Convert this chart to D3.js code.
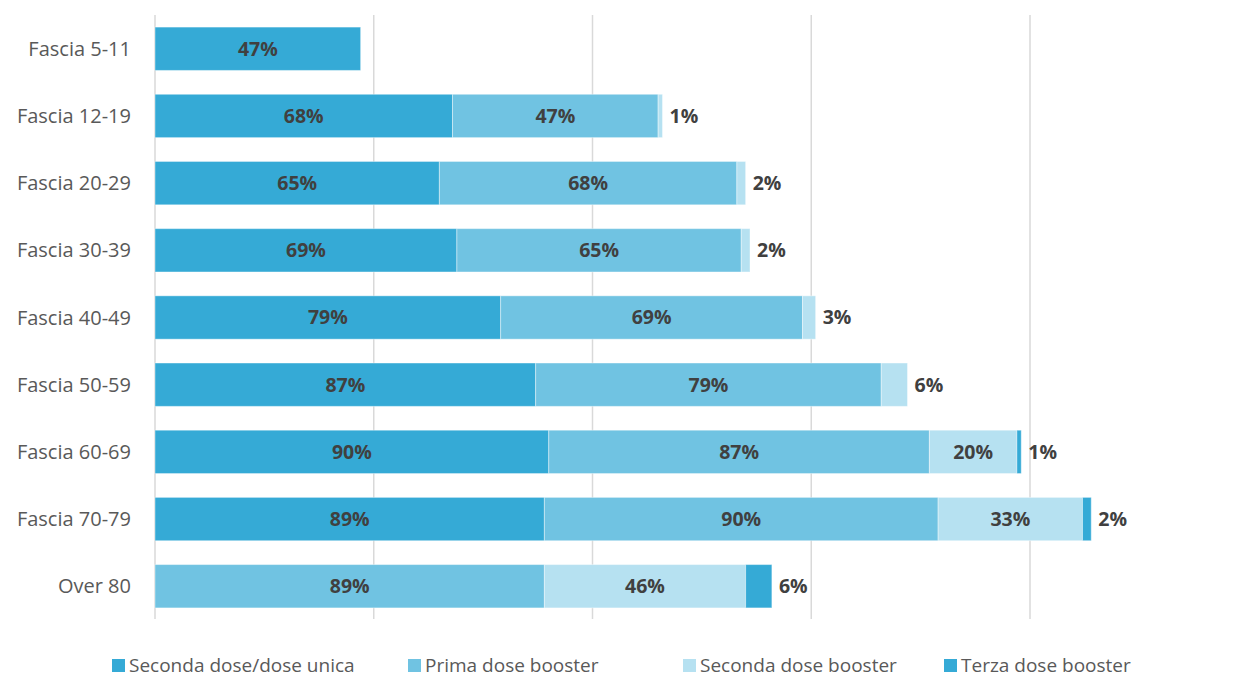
<!DOCTYPE html>
<html>
<head>
<meta charset="utf-8">
<script src="https://cdn.jsdelivr.net/npm/d3@7"></script>
<style>
  body { margin: 0; background: #fff; }
  text { font-family: "Open Sans", sans-serif; }
</style>
</head>
<body>
<script>
const categories = ['Fascia 5-11', 'Fascia 12-19', 'Fascia 20-29', 'Fascia 30-39', 'Fascia 40-49',
  'Fascia 50-59', 'Fascia 60-69', 'Fascia 70-79', 'Over 80'];
const seriesNames = ['Seconda dose/dose unica', 'Prima dose booster', 'Seconda dose booster', 'Terza dose booster'];
const secondaDose = [47, 68, 65, 69, 79, 87, 90, 89, 0];
const primaBooster = [0, 47, 68, 65, 69, 79, 87, 90, 89];
const secondaBooster = [0, 1, 2, 2, 3, 6, 20, 33, 46];
const terzaBooster = [0, 0, 0, 0, 0, 0, 1, 2, 6];
const ticks = [0, 50, 100, 150, 200];
const colors = ['#35aad6', '#70c3e2', '#b6e1f1', '#35aad6'];

const width = 1239, height = 679;
const svg = d3.select('body').append('svg')
  .attr('width', width)
  .attr('height', height);

const x = d3.scaleLinear().domain([0, 200]).range([155, 1030]);
const y = d3.scaleBand().domain(categories).range([15, 620]).paddingInner(0.355).paddingOuter(0.18);

// gridlines
svg.append('g').selectAll('line').data(ticks).enter().append('line')
  .attr('x1', d => x(d)).attr('x2', d => x(d))
  .attr('y1', 15).attr('y2', 619)
  .attr('stroke', '#d9d9d9').attr('stroke-width', 1.5);

// category labels
svg.append('g').selectAll('text').data(categories).enter().append('text')
  .attr('x', 131)
  .attr('y', d => y(d) + y.bandwidth() / 2)
  .attr('dy', '0.35em')
  .attr('text-anchor', 'end')
  .attr('fill', '#595959')
  .attr('font-size', 20)
  .text(d => d);

const table = categories.map((c, i) => ({
  cat: c,
  s0: secondaDose[i], s1: primaBooster[i], s2: secondaBooster[i], s3: terzaBooster[i]
}));
const stack = d3.stack().keys(['s0', 's1', 's2', 's3'])(table);

stack.forEach((layer, k) => {
  svg.append('g').selectAll('rect').data(layer.filter(d => d[1] > d[0])).enter().append('rect')
    .attr('x', d => x(d[0]))
    .attr('y', d => y(d.data.cat))
    .attr('width', d => x(d[1]) - x(d[0]))
    .attr('height', y.bandwidth())
    .attr('fill', colors[k])
    .attr('stroke', '#fff')
    .attr('stroke-opacity', 0.4)
    .attr('stroke-width', 1);
});

// labels: inside when big enough, outside the bar end when small
const labels = svg.append('g')
  .attr('font-weight', 'bold')
  .attr('font-size', 19.5)
  .attr('fill', '#404040');

stack.forEach(layer => {
  layer.forEach(d => {
    const v = d[1] - d[0];
    if (v <= 0) return;
    const cy = y(d.data.cat) + y.bandwidth() / 2;
    if (v >= 10) {
      labels.append('text')
        .attr('x', (x(d[0]) + x(d[1])) / 2)
        .attr('y', cy).attr('dy', '0.35em')
        .attr('text-anchor', 'middle')
        .text(v + '%');
    } else {
      const total = d.data.s0 + d.data.s1 + d.data.s2 + d.data.s3;
      labels.append('text')
        .attr('x', x(total) + 7)
        .attr('y', cy).attr('dy', '0.35em')
        .text(v + '%');
    }
  });
});

// legend
const legendX = [112, 408, 683, 944];
const legend = svg.append('g').selectAll('g').data(seriesNames).enter().append('g')
  .attr('transform', (d, i) => 'translate(' + legendX[i] + ',659)');
legend.append('rect')
  .attr('width', 13).attr('height', 13)
  .attr('fill', (d, i) => colors[i]);
legend.append('text')
  .attr('x', 17).attr('y', 6.5).attr('dy', '0.35em')
  .attr('font-size', 19)
  .attr('fill', '#595959')
  .text(d => d);
</script>
</body>
</html>
